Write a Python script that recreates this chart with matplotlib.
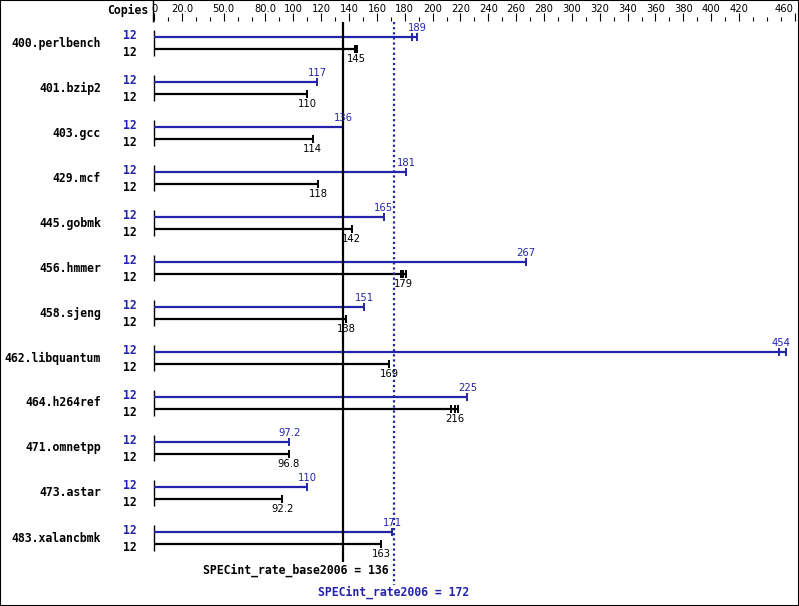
import numpy as np
import matplotlib
matplotlib.use('Agg')
import matplotlib.pyplot as plt
from matplotlib.patches import Rectangle

# benchmark data
benchmarks = ['400.perlbench', '401.bzip2', '403.gcc', '429.mcf', '445.gobmk',
              '456.hmmer', '458.sjeng', '462.libquantum', '464.h264ref',
              '471.omnetpp', '473.astar', '483.xalancbmk']
copies_peak = [12] * 12
copies_base = [12] * 12
peak = [189, 117, 136, 181, 165, 267, 151, 454, 225, 97.2, 110, 171]
base = [145, 110, 114, 118, 142, 179, 138, 169, 216, 96.8, 92.2, 163]
# spread of the runs (min / max of the three runs)
peak_lo = [185, 117, 136, 181, 165, 267, 151, 449, 225, 97.2, 110, 171]
peak_hi = [189, 117, 136, 181, 165, 267, 151, 454, 225, 97.2, 110, 171]
base_lo = [144, 110, 114, 118, 142, 177, 138, 169, 213, 96.8, 92.2, 163]
base_hi = [146, 110, 114, 118, 142, 181, 138, 169, 218, 96.8, 92.2, 163]
base_mean = 136
peak_mean = 172

tick_vals = [0, 20, 50, 80] + list(range(100, 440, 20)) + [460]
tick_labels = ['0', '20.0', '50.0', '80.0'] + [str(v) for v in range(100, 440, 20)] + ['460']

blue = '#2424aa'
mono = 'DejaVu Sans Mono'

W, H = 799, 606
X0 = 154      # pixel of value 0
S = 1.393     # pixels per unit

fig = plt.figure(figsize=(W / 100, H / 100), dpi=100)
ax = fig.add_axes([0, 0, 1, 1])
ax.set_xlim(-X0 / S, (W - X0) / S)
ax.set_ylim(H, 0)
ax.axis('off')

def px(x):
    return (x - X0) / S

# border
ax.add_patch(Rectangle((0, 0), 1, 1, transform=ax.transAxes, fill=False,
                       edgecolor='black', lw=1.5, clip_on=False))

# top scale
ax.text(px(148), 10, 'Copies', family=mono, weight='bold', fontsize=8.3,
        ha='right', va='center')
ax.vlines(px(153), 0, 22, color='black', lw=1)
for v in range(0, 461, 10):
    top = 13 if v in tick_vals else 17
    ax.vlines(v, top, 21, color='black', lw=0.8)
for v, lab in zip(tick_vals, tick_labels):
    if v == 460:
        ax.text(px(793), 9, lab, fontsize=7.2, ha='right', va='center')
    else:
        ax.text(v, 9, lab, fontsize=7.2, ha='center', va='center')

# bars
for i, name in enumerate(benchmarks):
    yp = 37 + 45 * i
    yb = yp + 12
    ax.text(px(101), yp + 6, name, family=mono, weight='bold', fontsize=8.3,
            ha='right', va='center')
    ax.text(px(137), yp - 1.5, str(copies_peak[i]), family=mono, weight='bold',
            fontsize=8.3, color=blue, ha='right', va='center')
    ax.text(px(137), yb + 3.5, str(copies_base[i]), family=mono, weight='bold',
            fontsize=8.3, ha='right', va='center')
    ax.vlines(0, yp - 7, yb + 7, color='black', lw=1)

    ax.hlines(yp, 0, peak_hi[i], color=blue, lw=1.6)
    for v in sorted(set([peak_lo[i], peak[i], peak_hi[i]])):
        ax.vlines(v, yp - 4, yp + 4, color=blue, lw=1.4)
    ax.hlines(yb, 0, base_hi[i], color='black', lw=1.6)
    for v in sorted(set([base_lo[i], base[i], base_hi[i]])):
        ax.vlines(v, yb - 4, yb + 4, color='black', lw=1.4)

    lp = '{:.3g}'.format(peak[i])
    lb = '{:.3g}'.format(base[i])
    if peak[i] > 440:
        ax.text(peak[i] + 3, yp - 4, lp, fontsize=7.2, color=blue, ha='right', va='bottom')
    else:
        ax.text(peak[i], yp - 4, lp, fontsize=7.2, color=blue, ha='center', va='bottom')
    ax.text(base[i], yb + 5, lb, fontsize=7.2, ha='center', va='top')

# summary lines
ax.vlines(base_mean, 22, 562, color='black', lw=1.6)
ax.vlines(peak_mean, 22, 585, color=blue, lw=1.6, linestyles=(0, (1, 1.3)))
ax.text(px(389), 570, 'SPECint_rate_base2006 = %d' % base_mean, family=mono,
        weight='bold', fontsize=8.3, ha='right', va='center')
ax.text(peak_mean, 592, 'SPECint_rate2006 = %d' % peak_mean, family=mono,
        weight='bold', fontsize=8.3, color=blue, ha='center', va='center')

plt.savefig('out.png', dpi=100)
plt.close()
